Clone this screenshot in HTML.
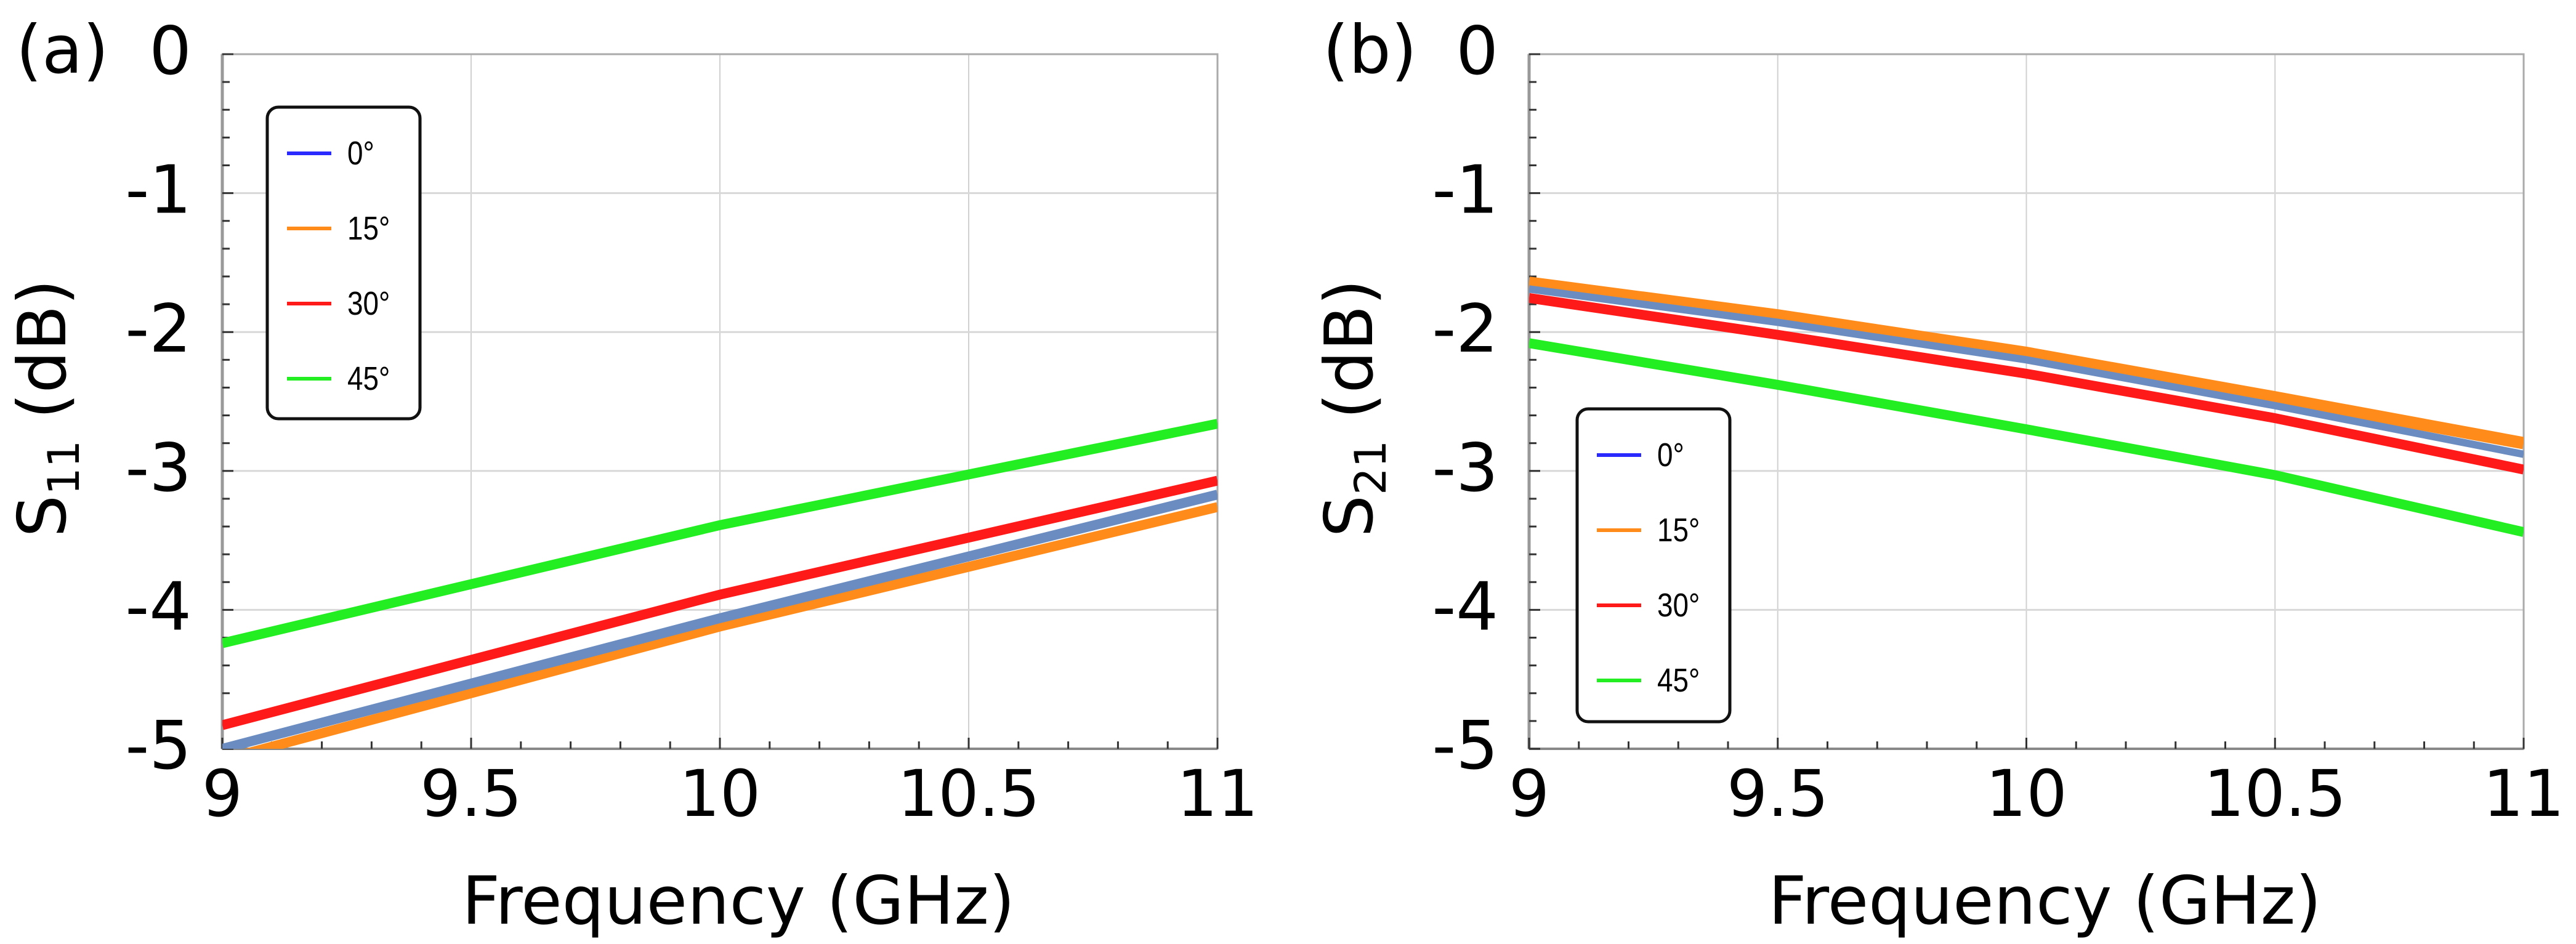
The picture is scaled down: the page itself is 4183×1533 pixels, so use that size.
<!DOCTYPE html>
<html><head><meta charset="utf-8"><style>
html,body{margin:0;padding:0;background:#fff;}
svg{display:block;}
text{font-family:"DejaVu Sans","Liberation Sans",sans-serif;fill:#000;}
.leg{font-family:"Liberation Sans",sans-serif;}
</style></head><body>
<svg id="chart" width="4183" height="1533" viewBox="0 0 4183 1533" xmlns="http://www.w3.org/2000/svg"></svg>
<script>
const freqA = [9, 10, 11];
const s11_0 = [-5.0, -4.06, -3.17];
const s11_15 = [-5.08, -4.12, -3.26];
const s11_30 = [-4.83, -3.89, -3.07];
const s11_45 = [-4.24, -3.39, -2.66];
const freqB = [9, 9.5, 10, 10.5, 11];
const s21_0 = [-1.69, -1.93, -2.2, -2.53, -2.88];
const s21_15 = [-1.645, -1.88, -2.15, -2.47, -2.80];
const s21_30 = [-1.755, -2.02, -2.3, -2.62, -2.99];
const s21_45 = [-2.08, -2.38, -2.70, -3.03, -3.44];
const xTicks = [9, 9.5, 10, 10.5, 11];
const xTickLabels = ["9", "9.5", "10", "10.5", "11"];
const yTicks = [0, -1, -2, -3, -4, -5];
const yTickLabels = ["0", "-1", "-2", "-3", "-4", "-5"];
const legendLabels = ["0°", "15°", "30°", "45°"];

const NS = "http://www.w3.org/2000/svg";
const svg = document.getElementById("chart");
function mk(tag, attrs, parent) {
  const e = document.createElementNS(NS, tag);
  for (const k in attrs) e.setAttribute(k, attrs[k]);
  (parent || svg).appendChild(e);
  return e;
}
const T = 88, B = 1216;
function panel(L, R, tag, ylab, sub, series, legend) {
  const g = mk("g", {});
  
  
  const xs = v => L + (v - 9) / 2 * (R - L);
  const ys = v => T + (0 - v) / 5 * (B - T);
  // grid
  xTicks.forEach(v => { if (v > 9 && v < 11) { const l = mk("line", {x1: xs(v), x2: xs(v), y1: T, y2: B, stroke: "#d0d0d0", "stroke-width": 2}, g);
      } });
  yTicks.forEach(v => { if (v < 0 && v > -5) { const l = mk("line", {x1: L, x2: R, y1: ys(v), y2: ys(v), stroke: "#d8d8d8", "stroke-width": 3}, g);
      } });
  // frame
  const fr = mk("rect", {x: L, y: T, width: R - L, height: B - T, fill: "none", stroke: "#aaa", "stroke-width": 3}, g);
   
  mk("line", {x1: L, x2: L, y1: T, y2: B, stroke: "#999", "stroke-width": 5}, g);
  mk("line", {x1: L, x2: R, y1: B, y2: B, stroke: "#888", "stroke-width": 4}, g);
  // minor ticks
  for (let i = 0; i <= 25; i++) { const v = -i * 0.2; const len = (i % 5 === 0) ? 18 : 12;
    mk("line", {x1: L, x2: L + len, y1: ys(v), y2: ys(v), stroke: "#333", "stroke-width": 3}, g); }
  for (let i = 0; i <= 20; i++) { const v = 9 + i * 0.1; const len = (i % 5 === 0) ? 18 : 12;
    mk("line", {x1: xs(v), x2: xs(v), y1: B, y2: B - len, stroke: "#333", "stroke-width": 3}, g); }
  // series
  const clip = mk("clipPath", {id: "clip" + tag}, g);
  mk("rect", {x: L, y: T, width: R - L, height: B - T}, clip);
  series.forEach(s => {
    const d = s.y.map((v, i) => (i ? "L" : "M") + xs(s.x[i]) + "," + ys(v)).join(" ");
    const p = mk("path", {d: d, fill: "none", stroke: s.c, "stroke-width": s.w, "clip-path": "url(#clip" + tag + ")"}, g);
    
    
  });
  // tick labels
  xTicks.forEach((v, i) => { const t = mk("text", {x: xs(v), y: 1325, "font-size": 104, "text-anchor": "middle"}, g); t.textContent = xTickLabels[i];
      });
  yTicks.forEach((v, i) => { const t = mk("text", {x: L - 50, y: ys(v) + 32, "font-size": 108, "text-anchor": "end"}, g); t.textContent = yTickLabels[i];
      });
  const xt = mk("text", {x: (L + R) / 2 + 30, y: 1500, "font-size": 108, "text-anchor": "middle"}, g); xt.textContent = "Frequency (GHz)";
   
  const cx = L - 255;
  const yt = mk("text", {x: 0, y: 0, "font-size": 108, "text-anchor": "middle", transform: "translate(" + cx + ",663) rotate(-90)"}, g);
   
  const a = mk("tspan", {}, yt); a.textContent = ylab;
  const b = mk("tspan", {"font-size": 70, dy: 22}, yt); b.textContent = sub;
  const c = mk("tspan", {dy: -22}, yt); c.textContent = "  (dB)";
  const pl = mk("text", {x: L - 335, y: 118, "font-size": 108}, g); pl.textContent = "(" + tag + ")";
   
  // legend
  const lg = mk("g", {}, g);
   
  mk("rect", {x: legend.x, y: legend.y, width: 248, height: legend.h, rx: 18, fill: "#fff", stroke: "#111", "stroke-width": 5}, lg);
  const cols = ["#2a2aff", "#ff8c1a", "#ff1a1a", "#22ee22"];
  legendLabels.forEach((lab, i) => {
    const yy = legend.y + 75 + i * legend.dy;
    const e = mk("g", {}, lg);
     
    mk("line", {x1: legend.x + 32, x2: legend.x + 104, y1: yy, y2: yy, stroke: cols[i], "stroke-width": 6}, e);
    const t = mk("text", {x: legend.x + 130, y: yy + 18, "font-size": 54, class: "leg", transform: "translate(" + (legend.x + 130) + ",0) scale(0.85,1) translate(" + (-(legend.x + 130)) + ",0)"}, e);
    t.textContent = lab;
  });
}
panel(361, 1977, "a", "S", "11", [
  {n: "15deg", x: freqA, y: s11_15, c: "#ff8c1a", w: 16},
  {n: "0deg", x: freqA, y: s11_0, c: "#6a8cc0", w: 16},
  {n: "30deg", x: freqA, y: s11_30, c: "#ff1a1a", w: 16},
  {n: "45deg", x: freqA, y: s11_45, c: "#22ee22", w: 16}
], {x: 434, y: 174, h: 506, dy: 122});
panel(2483, 4098, "b", "S", "21", [
  {n: "15deg", x: freqB, y: s21_15, c: "#ff8c1a", w: 20},
  {n: "0deg", x: freqB, y: s21_0, c: "#6a8cc0", w: 12},
  {n: "30deg", x: freqB, y: s21_30, c: "#ff1a1a", w: 16},
  {n: "45deg", x: freqB, y: s21_45, c: "#22ee22", w: 16}
], {x: 2561, y: 664, h: 508, dy: 122});
</script>
</body></html>
